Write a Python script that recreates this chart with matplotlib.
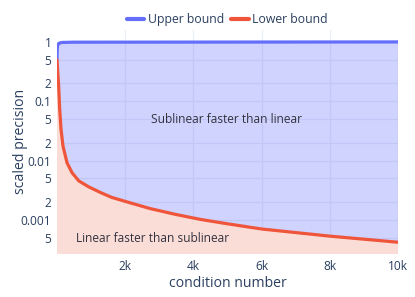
import matplotlib
matplotlib.use("Agg")
import matplotlib.pyplot as plt

plt.rcParams["font.family"] = ["Open Sans", "DejaVu Sans"]

# values
kappa_upper = [1, 5, 15, 40, 80, 150, 500, 10000]
upper = [0.5, 0.72, 0.85, 0.93, 0.96, 0.98, 0.99, 1.0]

kappa_lower = [1, 25, 50, 80, 118, 176, 294, 441, 638, 932, 1273, 1600, 2000,
               2735, 3470, 4200, 4940, 5670, 6020, 8030, 10000]
lower = [0.5, 0.3, 0.18, 0.073, 0.034, 0.0176, 0.0092, 0.00625, 0.00455,
         0.0036, 0.0029, 0.0024, 0.00205, 0.00155, 0.00124, 0.00102, 0.00087,
         0.00075, 0.00070, 0.00053, 0.00042]

ytick_vals = [1, 0.5, 0.2, 0.1, 0.05, 0.02, 0.01, 0.005, 0.002, 0.001, 0.0005]
ytick_text = ["1", "5", "2", "0.1", "5", "2", "0.01", "5", "2", "0.001", "5"]
xtick_vals = [2000, 4000, 6000, 8000, 10000]
xtick_text = ["2k", "4k", "6k", "8k", "10k"]

blue = "#636efa"
red = "#ef553b"
txt = "#2a3f5f"

fig = plt.figure(figsize=(4.15, 2.97), dpi=100)
ax = fig.add_axes([57 / 415, 1 - 254 / 297, 341 / 415, 224.5 / 297])

ax.set_yscale("log")
ax.set_xlim(1, 10000)
ax.set_ylim(0.000266, 1.62)

ax.fill_between(kappa_upper, upper, 1e-6, color=blue, alpha=0.3, lw=0, zorder=1)
# blue fill stops at the lower bound: repaint the red region on top
ax.fill_between(kappa_lower, 1e-6, lower, color="white", lw=0, zorder=1.5)
ax.fill_between(kappa_lower, 1e-6, lower, color=red, alpha=0.2, lw=0, zorder=1.6)

ax.plot(kappa_upper, upper, color=blue, lw=2.3, label="Upper bound", zorder=3,
        solid_capstyle="round")
ax.plot(kappa_lower, lower, color=red, lw=2.3, label="Lower bound", zorder=3,
        solid_capstyle="round")

ax.set_yticks(ytick_vals)
ax.set_yticklabels(ytick_text)
ax.minorticks_off()
for lab, t in zip(ax.get_yticklabels(), ytick_text):
    lab.set_fontsize(8.6 if t in ("1", "0.1", "0.01", "0.001") else 6.5)
ax.set_xticks(xtick_vals)
ax.set_xticklabels(xtick_text)

ax.tick_params(axis="both", length=0, colors=txt, labelsize=8.6)
ax.tick_params(axis="x", pad=4)
ax.tick_params(axis="y", pad=4)
ax.grid(True, color="#ebf0f8", lw=0.9)
ax.set_axisbelow(True)
for s in ax.spines.values():
    s.set_visible(False)

ax.set_xlabel("condition number", fontsize=10.1, color=txt)
ax.set_ylabel("scaled precision", fontsize=10.1, color=txt)
ax.xaxis.set_label_coords(0.5, -0.1)
ax.yaxis.set_label_coords(-0.085, 0.5)

ax.text(0.4985, 0.597, "Sublinear faster than linear", transform=ax.transAxes,
        ha="center", va="center", fontsize=8.6, color="#333340", zorder=4)
ax.text(0.055, 0.067, "Linear faster than sublinear", transform=ax.transAxes,
        ha="left", va="center", fontsize=8.6, color="#333340", zorder=4)

leg = ax.legend(loc="center", bbox_to_anchor=(0.5, 1.045), ncol=2, frameon=False,
                fontsize=8.8, handlelength=1.4, handletextpad=0.3,
                columnspacing=0.6, borderaxespad=0)
for line in leg.get_lines():
    line.set_linewidth(3)
for t in leg.get_texts():
    t.set_color(txt)

fig.savefig("out.png", dpi=100)
